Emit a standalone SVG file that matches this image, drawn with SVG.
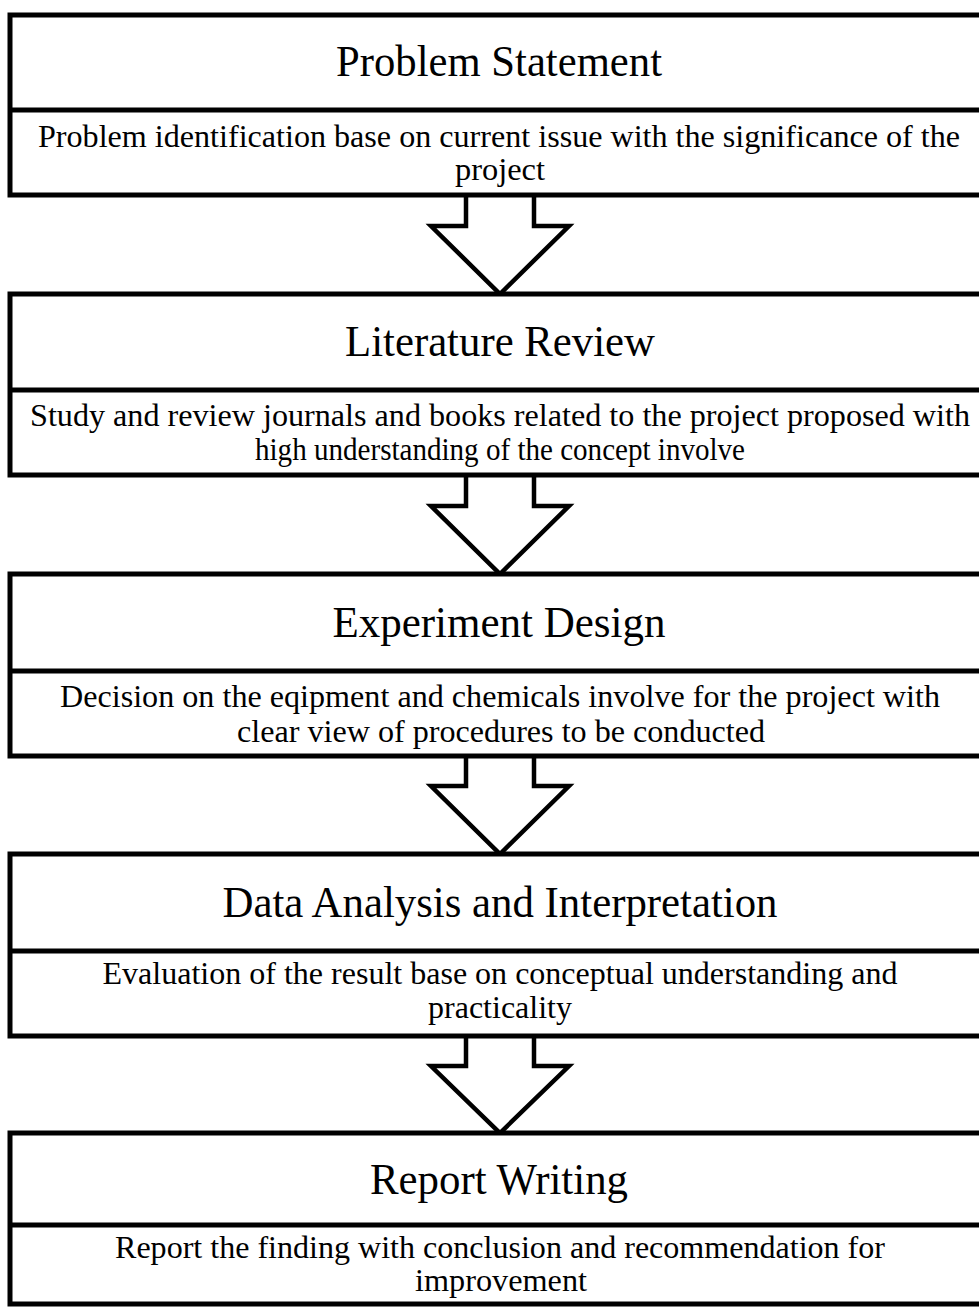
<svg xmlns="http://www.w3.org/2000/svg" width="979" height="1307" viewBox="0 0 979 1307">
<style>
.box{fill:#fff;stroke:#000;stroke-width:5}
.div{stroke:#000;stroke-width:5}
.arrow{fill:#fff;stroke:#000;stroke-width:4.5;stroke-linejoin:miter}
.t{font-family:"Liberation Serif","Times New Roman",serif;font-size:45px;fill:#000;text-anchor:middle}
.d{font-family:"Liberation Serif","Times New Roman",serif;font-size:32px;fill:#000;text-anchor:middle}
</style>
<rect width="979" height="1307" fill="#fff"/>
<g id="connectors">
<path class="arrow" d="M466,196 V226 H431 L500,294 L569,226 H534 V196"/>
<path class="arrow" d="M466,476 V506 H431 L500,574 L569,506 H534 V476"/>
<path class="arrow" d="M466,756 V786 H431 L500,854 L569,786 H534 V756"/>
<path class="arrow" d="M466,1036 V1066 H431 L500,1133 L569,1066 H534 V1036"/>
</g>
<g id="problem-statement">
<rect class="box" x="10" y="15" width="990" height="180"/>
<line class="div" x1="10" y1="110" x2="1000" y2="110"/>
<text class="t" x="499" y="76" textLength="326" lengthAdjust="spacingAndGlyphs">Problem Statement</text>
<text class="d" x="499" y="147" textLength="922" lengthAdjust="spacingAndGlyphs">Problem identification base on current issue with the significance of the</text>
<text class="d" x="500" y="180" textLength="90" lengthAdjust="spacingAndGlyphs">project</text>
</g>
<g id="literature-review">
<rect class="box" x="10" y="294" width="990" height="181"/>
<line class="div" x1="10" y1="390" x2="1000" y2="390"/>
<text class="t" x="500" y="356" textLength="310" lengthAdjust="spacingAndGlyphs">Literature Review</text>
<text class="d" x="500" y="426" textLength="940" lengthAdjust="spacingAndGlyphs">Study and review journals and books related to the project proposed with</text>
<text class="d" x="500" y="460" textLength="490" lengthAdjust="spacingAndGlyphs">high understanding of the concept involve</text>
</g>
<g id="experiment-design">
<rect class="box" x="10" y="574" width="990" height="182"/>
<line class="div" x1="10" y1="671" x2="1000" y2="671"/>
<text class="t" x="499" y="637" textLength="333" lengthAdjust="spacingAndGlyphs">Experiment Design</text>
<text class="d" x="500" y="707" textLength="880" lengthAdjust="spacingAndGlyphs">Decision on the eqipment and chemicals involve for the project with</text>
<text class="d" x="501" y="742" textLength="528" lengthAdjust="spacingAndGlyphs">clear view of procedures to be conducted</text>
</g>
<g id="data-analysis">
<rect class="box" x="10" y="854" width="990" height="182"/>
<line class="div" x1="10" y1="951" x2="1000" y2="951"/>
<text class="t" x="500" y="917" textLength="555" lengthAdjust="spacingAndGlyphs">Data Analysis and Interpretation</text>
<text class="d" x="500" y="984" textLength="795" lengthAdjust="spacingAndGlyphs">Evaluation of the result base on conceptual understanding and</text>
<text class="d" x="500" y="1018" textLength="144" lengthAdjust="spacingAndGlyphs">practicality</text>
</g>
<g id="report-writing">
<rect class="box" x="10" y="1133" width="990" height="171"/>
<line class="div" x1="10" y1="1225" x2="1000" y2="1225"/>
<text class="t" x="499" y="1194" textLength="258" lengthAdjust="spacingAndGlyphs">Report Writing</text>
<text class="d" x="500" y="1258" textLength="770" lengthAdjust="spacingAndGlyphs">Report the finding with conclusion and recommendation for</text>
<text class="d" x="501" y="1291" textLength="172" lengthAdjust="spacingAndGlyphs">improvement</text>
</g>
</svg>
